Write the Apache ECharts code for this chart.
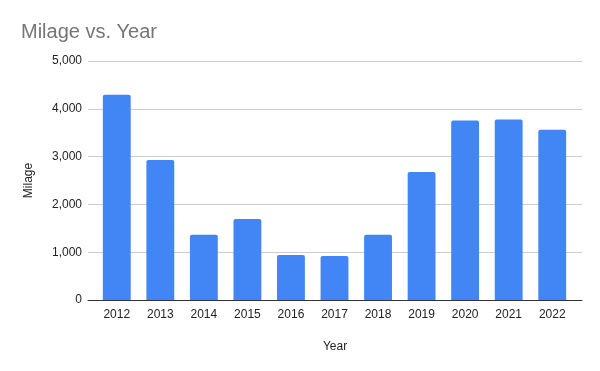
<!DOCTYPE html>
<html><head><meta charset="utf-8">
<script src="https://cdn.jsdelivr.net/npm/echarts@6/dist/echarts.min.js"></script>
<style>html,body{margin:0;padding:0;background:#fff}#c{width:600px;height:371px}</style>
</head><body><div id="c"></div>
<script>
const years = ['2012','2013','2014','2015','2016','2017','2018','2019','2020','2021','2022'];
const milage = [4295, 2930, 1363, 1692, 943, 922, 1363, 2677, 3753, 3774, 3564];
const yTicks = [0, 1000, 2000, 3000, 4000, 5000];

const font = 'Liberation Sans, Arial';
const chart = echarts.init(document.getElementById('c'), null, {renderer:'canvas'});
chart.setOption({
  animation:false,
  backgroundColor:'#fff',
  title:{text:'Milage vs. Year', left:16, top:17,
    textStyle:{fontFamily:font, fontSize:20, fontWeight:'normal', color:'#757575'}},
  grid:[
    {left:88, right:18, top:61, bottom:71},
    {left:95, right:26, top:61, bottom:71}
  ],
  xAxis:[
    {type:'value', gridIndex:0, min:0, max:1,
      axisLine:{show:true, onZero:false, lineStyle:{color:'#333', width:1}},
      axisTick:{show:false}, axisLabel:{show:false}, splitLine:{show:false},
      name:'Year', nameLocation:'middle', nameGap:41,
      nameTextStyle:{fontFamily:font, fontSize:12, color:'#222'}},
    {type:'category', gridIndex:1, data:years,
      axisLine:{show:false}, axisTick:{show:false},
      axisLabel:{fontFamily:font, fontSize:12, color:'#222', margin:9}}
  ],
  yAxis:[
    {type:'value', gridIndex:0, min:yTicks[0], max:yTicks[yTicks.length-1], interval:1000,
      name:'Milage', nameLocation:'middle', nameGap:53,
      nameTextStyle:{fontFamily:font, fontSize:12, color:'#222'},
      axisLine:{show:false}, axisTick:{show:false},
      splitLine:{lineStyle:{color:'#ccc', width:1}},
      axisLabel:{fontFamily:font, fontSize:12, color:'#222', margin:6,
        formatter:v=>v.toLocaleString('en-US')}},
    {type:'value', gridIndex:1, min:yTicks[0], max:yTicks[yTicks.length-1],
      show:false, splitLine:{show:false}}
  ],
  series:[{type:'bar', xAxisIndex:1, yAxisIndex:1, data:milage, barCategoryGap:'36%',
    itemStyle:{color:'#4285F4', borderRadius:[2,2,0,0]}}]
});
</script></body></html>
